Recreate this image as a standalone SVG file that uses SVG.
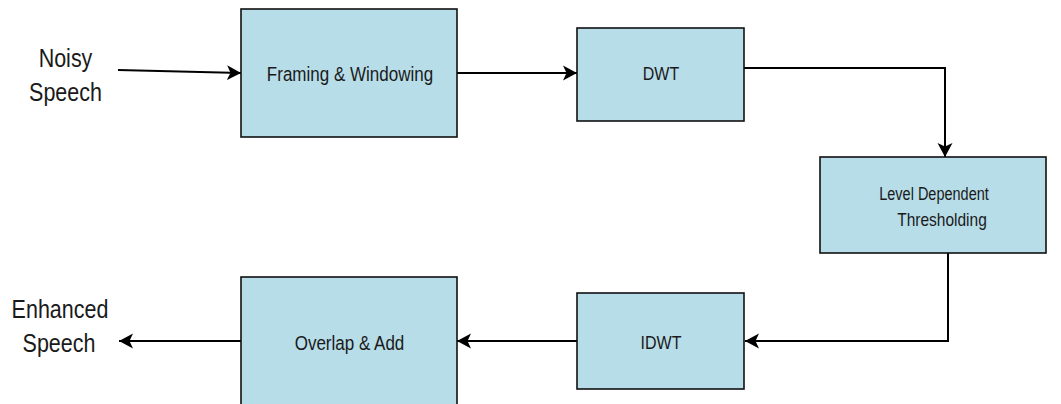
<svg xmlns="http://www.w3.org/2000/svg" width="1061" height="404" viewBox="0 0 1061 404">
  <style>
    .box { fill: #b7dde8; stroke: #111; stroke-width: 1.6; }
    .lbl { font-family: "Liberation Sans", Arial, sans-serif; font-size: 17px; fill: #1a1a1a; text-anchor: middle; }
    .io { font-family: "Liberation Sans", Arial, sans-serif; font-size: 21.5px; fill: #1a1a1a; text-anchor: middle; }
    .wire { fill: none; stroke: #000; stroke-width: 2; marker-end: url(#head); }
  </style>
  <defs>
    <marker id="head" markerUnits="userSpaceOnUse" markerWidth="15" markerHeight="16" refX="14" refY="8" orient="auto">
      <path d="M0,0.5 L14,8 L0,15.5 L3.5,8 Z" fill="#000"/>
    </marker>
  </defs>
  <rect width="1061" height="404" fill="#fff"/>

  <!-- signal flow -->
  <g id="connectors">
    <path class="wire" d="M118,70 L241,73"/>
    <path class="wire" d="M457,73 L577,73"/>
    <path class="wire" d="M744,68 L945,68 L945,157"/>
    <path class="wire" d="M948,253 L948,341 L745,341"/>
    <path class="wire" d="M577,341 L457,341"/>
    <path class="wire" d="M241,341 L119,341"/>
  </g>

  <g id="input">
    <text class="io" transform="translate(65.5,66.5) scale(1,1.2)">Noisy</text>
    <text class="io" transform="translate(65.5,100.5) scale(1,1.2)">Speech</text>
  </g>

  <g id="framing">
    <rect class="box" x="241" y="9" width="216" height="128"/>
    <text class="lbl" transform="translate(350,81) scale(1,1.17)">Framing &amp; Windowing</text>
  </g>

  <g id="dwt">
    <rect class="box" x="577" y="28" width="167" height="93"/>
    <text class="lbl" style="font-size:16px" transform="translate(661,80) scale(1,1.17)">DWT</text>
  </g>

  <g id="thresholding">
    <rect class="box" x="820" y="157" width="226" height="96"/>
    <text class="lbl" style="font-size:14.5px" transform="translate(934,200) scale(1,1.25)">Level Dependent</text>
    <text class="lbl" style="font-size:15.5px" transform="translate(942,226) scale(1,1.2)">Thresholding</text>
  </g>

  <g id="idwt">
    <rect class="box" x="577" y="293" width="167" height="96"/>
    <text class="lbl" style="font-size:16px" transform="translate(661,349) scale(1,1.17)">IDWT</text>
  </g>

  <g id="overlap-add">
    <rect class="box" x="241" y="277" width="216" height="140"/>
    <text class="lbl" transform="translate(349.5,350) scale(1,1.17)">Overlap &amp; Add</text>
  </g>

  <g id="output">
    <text class="io" transform="translate(60,318) scale(1,1.2)">Enhanced</text>
    <text class="io" transform="translate(59,351.5) scale(1,1.2)">Speech</text>
  </g>
</svg>
